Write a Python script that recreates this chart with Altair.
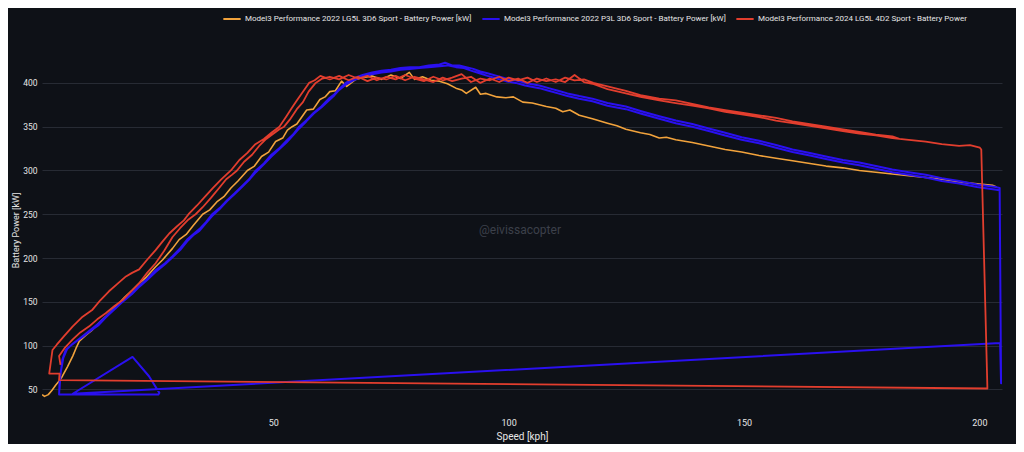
import altair as alt
import pandas as pd

SERIES = [
    "Model3 Performance 2022 LG5L 3D6 Sport - Battery Power [kW]",
    "Model3 Performance 2022 P3L 3D6 Sport - Battery Power [kW]",
    "Model3 Performance 2024 LG5L 4D2 Sport - Battery Power",
]
COLORS = ["#f2a33c", "#2a10f0", "#e23e2e"]

# (speed kph, battery power kW) in recording order
orange_pts = [
    (0.9, 44), (1.4, 42), (2.2, 44), (3.0, 49), (3.8, 55), (4.6, 60), (5.2, 65), (6.3, 76), (7.4, 88),
    (8.1, 97), (8.8, 105), (10.2, 112), (11.6, 118), (13.0, 126), (14.4, 133), (15.8, 141), (17.0, 147),
    (18.4, 155), (20.0, 163), (21.5, 171), (23.0, 178), (25.0, 190), (26.5, 198), (28.6, 211), (30.0, 221),
    (31.5, 227), (33.0, 237), (35.0, 250), (36.5, 255), (38.0, 264), (39.5, 270), (41.0, 280), (42.5, 288),
    (44.5, 300), (46.0, 305), (47.5, 316), (49.0, 321), (50.5, 333), (52.0, 337), (53.0, 346), (54.0, 350),
    (55.0, 353), (57.1, 369), (58.5, 370), (59.9, 381), (61.0, 384), (62.0, 390), (63.2, 391), (64.5, 402),
    (65.6, 396), (67.5, 404), (69.0, 406), (71.0, 408), (73.0, 404), (75.0, 409), (77.0, 405), (78.9, 412),
    (80.0, 404), (81.7, 407), (83.5, 403), (85.3, 402), (87.0, 399), (88.8, 394), (90.0, 392), (91.0, 388),
    (93.0, 395), (94.0, 387), (95.2, 388), (97.5, 384), (99.4, 383), (101.0, 384), (103.0, 378), (105.0, 377),
    (106.5, 375), (108.0, 373), (110.0, 371), (111.5, 367), (113.0, 369), (115.0, 363), (117.8, 359),
    (121.0, 354), (123.0, 351), (124.9, 347), (128.0, 343), (130.0, 341), (132.0, 337), (133.5, 338),
    (135.5, 335), (139.0, 332), (142.5, 328), (146.0, 324), (149.5, 321), (153.2, 317), (156.8, 314),
    (160.3, 311), (164.0, 308), (167.4, 305), (171.0, 303), (174.5, 300), (178.0, 298), (181.5, 296),
    (185.0, 294), (188.6, 292), (192.0, 290), (195.7, 287), (199.0, 285), (202.8, 283), (203.6, 281),
]

blue_pts = [
    # run 1
    (4.6, 50), (4.8, 68), (5.4, 86), (6.2, 96), (7.4, 102), (8.6, 107), (9.8, 112), (11.2, 118), (12.8, 125),
    (14.4, 133), (16.0, 141), (18.0, 150), (20.0, 160), (21.5, 168), (23.2, 176), (25.0, 186), (27.0, 194),
    (28.6, 202), (30.2, 211), (31.7, 221), (33.0, 227), (34.3, 233), (35.7, 241), (37.0, 250), (38.6, 257),
    (40.2, 266), (41.8, 274), (43.5, 283), (45.0, 291), (46.3, 300), (48.0, 308), (49.6, 318), (51.2, 325),
    (52.8, 334), (54.2, 341), (55.5, 350), (57.0, 357), (58.6, 366), (60.2, 373), (61.8, 382), (63.0, 387),
    (64.0, 393), (65.4, 400), (67.0, 405), (69.0, 409), (71.0, 412), (73.0, 414), (75.0, 415), (77.0, 417),
    (79.0, 418), (81.0, 418), (83.0, 420), (85.3, 421), (86.5, 423), (88.0, 420), (89.5, 420), (91.0, 418),
    (92.5, 416), (94.0, 413), (95.5, 411), (97.5, 408), (99.4, 405), (101.5, 403), (103.5, 400), (106.5, 397),
    (108.5, 394), (110.5, 391), (112.5, 388), (115.0, 385), (117.8, 382), (121.0, 377), (124.9, 373),
    (128.0, 368), (132.0, 362), (135.5, 357), (139.0, 353), (142.5, 348), (146.0, 343), (149.5, 338),
    (153.2, 334), (156.8, 329), (160.3, 324), (164.0, 320), (167.4, 316), (171.0, 312), (174.5, 309),
    (178.0, 305), (181.5, 301), (185.0, 298), (188.6, 295), (192.0, 291), (195.7, 288), (199.5, 284),
    (203.6, 281), (204.3, 280),
    # coast down / reset
    (204.6, 57), (204.4, 103), (7.4, 45), (20.1, 87), (23.6, 65), (25.8, 46), (25.6, 44), (4.5, 44),
    # run 2
    (4.6, 58), (5.2, 84), (5.9, 95), (7.0, 100), (8.2, 105), (9.5, 110), (11.0, 116), (12.8, 123), (14.4, 132),
    (16.0, 140), (18.0, 150), (20.0, 159), (21.5, 167), (23.2, 175), (25.0, 184), (27.0, 193), (28.6, 201),
    (30.2, 209), (31.7, 219), (33.0, 226), (34.3, 231), (35.7, 240), (37.0, 248), (38.6, 256), (40.2, 265),
    (41.8, 273), (43.5, 282), (45.0, 290), (46.3, 298), (48.0, 307), (49.6, 316), (51.2, 324), (52.8, 332),
    (54.2, 340), (55.5, 348), (57.0, 356), (58.6, 365), (60.2, 372), (61.8, 380), (63.0, 386), (64.0, 392),
    (65.4, 398), (67.0, 403), (69.0, 407), (71.0, 410), (73.0, 412), (75.0, 413), (77.0, 415), (79.0, 416),
    (81.0, 417), (83.0, 418), (85.3, 419), (87.0, 420), (88.8, 418), (90.5, 417), (92.0, 414), (93.8, 411),
    (95.5, 408), (97.5, 405), (99.4, 402), (101.5, 400), (103.5, 397), (106.5, 394), (108.5, 391),
    (110.5, 388), (112.5, 385), (115.0, 382), (117.8, 379), (121.0, 374), (124.9, 370), (128.0, 365),
    (132.0, 359), (135.5, 354), (139.0, 350), (142.5, 345), (146.0, 340), (149.5, 335), (153.2, 331),
    (156.8, 326), (160.3, 321), (164.0, 317), (167.4, 313), (171.0, 309), (174.5, 306), (178.0, 302),
    (181.5, 298), (185.0, 295), (188.6, 292), (192.0, 288), (195.7, 285), (199.5, 281), (203.6, 278),
    (204.4, 277),
]

red_pts = [
    # run 1
    (4.8, 78), (4.5, 88), (5.8, 98), (7.4, 107), (9.0, 115), (10.9, 122), (12.6, 130), (14.4, 137),
    (16.2, 145), (18.0, 152), (19.8, 162), (21.5, 171), (23.2, 183), (25.0, 194), (26.8, 208), (28.6, 224),
    (30.2, 234), (32.0, 244), (33.5, 250), (35.0, 258), (36.8, 269), (38.5, 280), (40.0, 290), (41.2, 295),
    (42.3, 300), (43.8, 310), (45.5, 318), (47.0, 328), (48.5, 336), (50.0, 342), (51.3, 347), (52.3, 350),
    (53.5, 358), (55.0, 370), (56.3, 378), (57.5, 390), (59.0, 400), (60.4, 405),
    (62, 407), (64, 404), (66, 409), (68, 405), (70, 408), (72, 403), (74, 407), (76, 404), (78, 409),
    (80, 405), (82, 402), (84, 407), (86, 403), (88, 406), (90, 410), (92, 401), (94, 405), (96, 403),
    (98, 407), (100, 402), (102, 405), (104, 400), (106, 405), (108, 402), (110, 404), (112, 401),
    (114, 409), (116, 401), (117.8, 399), (121.0, 393), (124.9, 388), (128.0, 384), (132.0, 380),
    (135.5, 377), (139.0, 374), (142.5, 371), (146.0, 367), (149.5, 364), (153.2, 361), (156.8, 357),
    (160.3, 354), (164.0, 351), (167.4, 348), (171.0, 345), (174.5, 342), (178.0, 340), (181.5, 337),
    (185.0, 335), (188.6, 333), (192.0, 330), (195.7, 328), (198.0, 329), (200.1, 326), (200.4, 324),
    # coast down / reset
    (201.7, 51), (4.5, 60.6), (4.6, 68), (2.4, 68), (3.1, 95),
    # run 2
    (4.0, 101), (5.6, 111), (7.4, 122), (9.5, 133), (11.6, 141), (13.3, 152), (15.1, 162), (17.0, 171),
    (18.7, 179), (20.0, 183), (21.5, 187), (23.2, 198), (25.0, 209), (26.5, 219), (27.9, 228), (29.5, 236),
    (31.0, 243), (32.0, 250), (33.8, 260), (35.5, 270), (37.2, 280), (39.0, 290), (41.0, 300), (42.8, 312),
    (44.5, 320), (46.2, 330), (48.0, 336), (49.8, 344), (51.3, 350), (52.8, 362), (54.0, 372), (55.0, 380),
    (56.3, 390), (57.6, 400), (58.8, 403), (60.0, 408),
    (62, 404), (64, 408), (66, 403), (68, 407), (70, 402), (72, 406), (74, 404), (76, 408), (78, 403),
    (80, 407), (82, 404), (84, 401), (86, 406), (88, 402), (90, 405), (92, 407), (94, 400), (96, 405),
    (98, 401), (100, 406), (102, 403), (104, 406), (106, 401), (108, 405), (110, 401), (112, 406),
    (114, 403), (116, 404), (118.0, 400), (121.0, 396), (124.9, 391), (128.0, 386), (132.0, 382),
    (135.5, 380), (139.0, 376), (142.5, 372), (146.0, 369), (149.5, 366), (153.2, 363), (156.8, 360),
    (160.3, 356), (164.0, 353), (167.4, 350), (171.0, 347), (174.5, 344), (178.0, 341), (181.5, 339),
    (183.0, 336),
]

x_ticks = [50, 100, 150, 200]
y_ticks = [50, 100, 150, 200, 250, 300, 350, 400]

rows = []
for name, pts in zip(SERIES, [orange_pts, blue_pts, red_pts]):
    for i, (s, p) in enumerate(pts):
        rows.append({"series": name, "idx": i, "speed": s, "power": p})
df = pd.DataFrame(rows)

FONT = "Liberation Sans Narrow, Arial Narrow, Roboto, sans-serif"
TXT = "#e6e6e6"

color = alt.Color(
    "series:N",
    scale=alt.Scale(domain=SERIES, range=COLORS),
    legend=alt.Legend(
        title=None, orient="none", legendX=180, legendY=-38, direction="horizontal",
        symbolType="stroke", symbolStrokeWidth=2, symbolSize=300, labelFontSize=8,
        labelColor=TXT, labelFont=FONT, columnPadding=6, labelOffset=3, labelLimit=400,
    ),
)

x = alt.X(
    "speed:Q",
    scale=alt.Scale(domain=[0.87, 204.8], nice=False, zero=False),
    axis=alt.Axis(values=x_ticks, grid=False, domain=False, ticks=False, labelColor=TXT,
                  labelFontSize=9, labelFont=FONT, labelPadding=5, title="Speed [kph]",
                  titleColor=TXT, titleFontSize=10, titleFont=FONT, titleFontWeight="normal",
                  titlePadding=4),
)
y = alt.Y(
    "power:Q",
    scale=alt.Scale(domain=[23, 441], nice=False, zero=False),
    axis=alt.Axis(values=y_ticks, grid=True, gridColor="#272b34", gridWidth=1, domain=False,
                  ticks=False, labelColor=TXT, labelFontSize=8.5, labelFont=FONT, labelPadding=5,
                  title="Battery Power [kW]", titleColor=TXT, titleFontSize=9, titleFont=FONT,
                  titleFontWeight="normal", titlePadding=2),
)

base = alt.Chart(df)
layers = []
for name, w in zip(SERIES, [1.6, 2.0, 1.8]):
    layers.append(
        base.transform_filter(alt.datum.series == name)
        .mark_line(strokeWidth=w, clip=True, strokeJoin="round")
        .encode(x=x, y=y, color=color, order=alt.Order("idx:Q"))
    )

watermark = alt.Chart(pd.DataFrame({"t": ["@eivissacopter"]})).mark_text(
    fontSize=12, color="#3c404a", font="Roboto, sans-serif"
).encode(text="t:N", x=alt.value(478), y=alt.value(183))

chart = (
    alt.layer(watermark, *layers)
    .properties(
        width=960, height=366, background="#0e1117",
        autosize=alt.AutoSizeParams(type="none"),
        padding={"left": 34, "top": 39, "right": 14, "bottom": 31},
    )
    .configure_view(stroke=None)
)

chart.save("out.html", embed_options={"renderer": "svg", "actions": False})
